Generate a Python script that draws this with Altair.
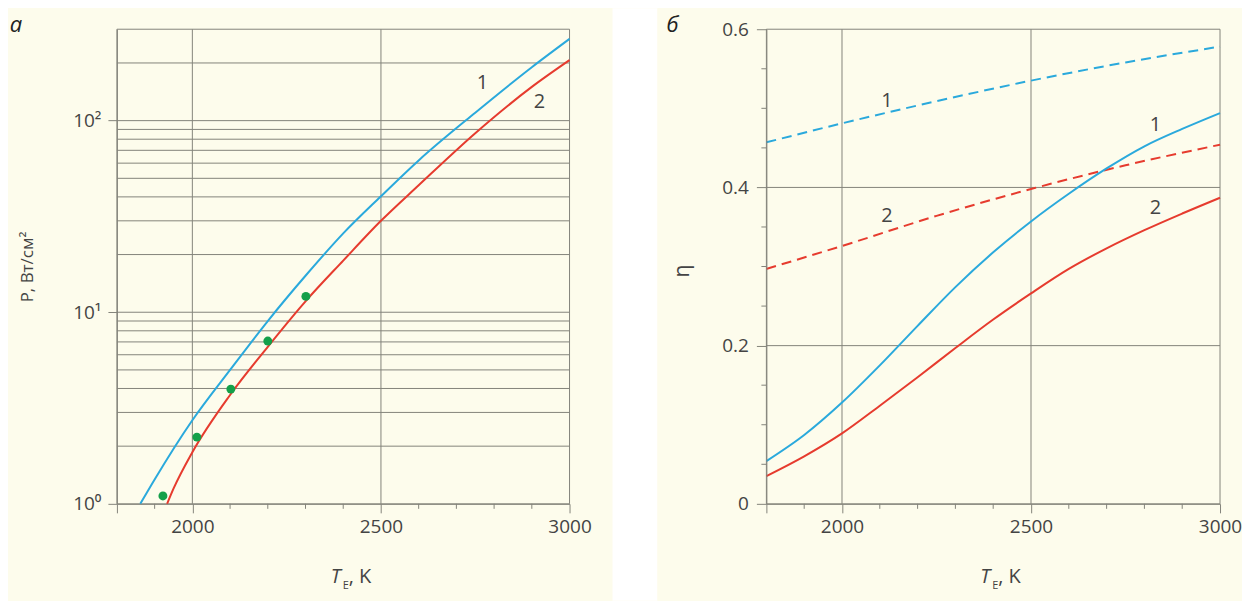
import altair as alt
import pandas as pd

# ---------------- data ----------------
# panel а : P (W/cm^2) vs T_E (K), log scale
T_p1 = [1862, 1900, 2000, 2100, 2200, 2300, 2400, 2500, 2600, 2750, 2900, 3000]
P_1 = [1.0, 1.34, 2.73, 5.0, 9.0, 15.5, 25.8, 40.3, 62, 110, 190, 267]
T_p2 = [1933, 1950, 2000, 2100, 2200, 2300, 2400, 2500, 2600, 2750, 2900, 3000]
P_2 = [1.0, 1.2, 1.86, 3.7, 6.6, 11.4, 18.6, 30.0, 46, 86, 150, 207]
T_exp = [1922, 2012, 2102, 2200, 2301]
P_exp = [1.1, 2.23, 3.97, 7.07, 12.1]
p_label_T = [2769, 2920]
p_label_P = [158, 125]
p_label_txt = ["1", "2"]

# panel б : efficiency
T_eta = [1800, 1900, 2000, 2100, 2200, 2300, 2400, 2500, 2600, 2700, 2800, 2900, 3000]
eta_1 = [0.054, 0.087, 0.128, 0.175, 0.225, 0.274, 0.318, 0.357, 0.392, 0.424, 0.452, 0.474, 0.494]
eta_2 = [0.035, 0.060, 0.089, 0.124, 0.160, 0.197, 0.233, 0.266, 0.297, 0.323, 0.346, 0.367, 0.387]
T_dash = [1800, 2000, 2250, 2500, 2750, 3000]
eta_1d = [0.457, 0.481, 0.509, 0.535, 0.558, 0.578]
eta_2d = [0.297, 0.326, 0.364, 0.398, 0.428, 0.454]
e_label_T = [2119, 2119, 2829, 2829]
e_label_v = [0.509, 0.364, 0.479, 0.374]
e_label_txt = ["1", "2", "1", "2"]

# ticks / grid values
x_major = [1800, 2000, 2500, 3000]
x_minor = [1900, 2100, 2200, 2300, 2400, 2600, 2700, 2800, 2900]
x_grid = [2000, 2500]
p_ticks = [1, 10, 100]
p_grid = [2, 3, 4, 5, 6, 7, 8, 9, 10, 20, 30, 40, 50, 60, 70, 80, 90, 100, 200]
e_ticks = [0, 0.2, 0.4, 0.6]
e_minor = [0.05, 0.1, 0.15, 0.25, 0.3, 0.35, 0.45, 0.5, 0.55]
e_grid = [0.2, 0.4]

# ---------------- style ----------------
CREAM = "#fdfcec"
GRID = "#84847a"
TXT = "#444444"
BLUE = "#2aa9dc"
RED = "#e63b2e"
GREEN = "#14a04a"
FONT = "Open Sans"

W1, H1 = 453, 475
W2, H2 = 454, 475
TOP, BOTTOM = -21, 572
one = pd.DataFrame({"a": [0]})

xs = alt.Scale(domain=[1800, 3000], nice=False, zero=False)
ys1 = alt.Scale(type="log", domain=[1, 300], nice=False)
ys2 = alt.Scale(domain=[0, 0.6], nice=False, zero=False)

XA = alt.Axis(values=x_major, tickSize=9, grid=False, title="", format="d",
              labelExpr="datum.value == 1800 ? '' : datum.label",
              labelFlush=False, labelPadding=5, zindex=1)
YA1 = alt.Axis(values=p_ticks, tickSize=9, grid=False, title="", labelPadding=7, zindex=1,
               labelExpr="datum.value < 5 ? '10⁰' : (datum.value < 50 ? '10¹' : '10²')")
YA2 = alt.Axis(values=e_ticks, tickSize=10, grid=False, title="", labelPadding=8, zindex=1,
               labelExpr="datum.value == 0 ? '0' : format(datum.value, '.1f')")


def filler(left, right, colour):
    return alt.Chart(one).mark_rect(color=colour).encode(
        x=alt.value(left), x2=alt.value(right), y=alt.value(TOP), y2=alt.value(BOTTOM))


def border(w, h):
    return alt.Chart(one).mark_rect(filled=False, stroke=GRID, strokeWidth=1).encode(
        x=alt.value(0), x2=alt.value(w), y=alt.value(0), y2=alt.value(h))


def vgrid(h):
    return alt.Chart(pd.DataFrame({"T": x_grid})).mark_rule(color=GRID, strokeWidth=1).encode(
        x=alt.X("T:Q", scale=xs, axis=XA), y=alt.value(0), y2=alt.value(h))


def xminor(h):
    return alt.Chart(pd.DataFrame({"T": x_minor})).mark_rule(color=GRID, strokeWidth=1).encode(
        x=alt.X("T:Q", scale=xs, axis=XA), y=alt.value(h), y2=alt.value(h + 5))


def xtitle():
    t1 = alt.Chart(one).mark_text(text="T", fontStyle="italic", fontSize=20, font=FONT,
                                  color=TXT, align="left", baseline="middle").encode(
        x=alt.value(214), y=alt.value(548))
    t2 = alt.Chart(one).mark_text(text="E", fontSize=11, font=FONT, color=TXT,
                                  align="left", baseline="middle").encode(
        x=alt.value(226), y=alt.value(557))
    t3 = alt.Chart(one).mark_text(text=", K", fontSize=20, font=FONT, color=TXT,
                                  align="left", baseline="middle").encode(
        x=alt.value(232), y=alt.value(548))
    return [t1, t2, t3]


def letter(txt, x):
    return alt.Chart(one).mark_text(text=txt, fontStyle="italic", fontSize=22, font=FONT,
                                    color="#222222", align="center", baseline="alphabetic").encode(
        x=alt.value(x), y=alt.value(3))


# ---------------- panel а ----------------
df_p = pd.DataFrame({
    "T": T_p1 + T_p2,
    "P": P_1 + P_2,
    "curve": ["1"] * len(T_p1) + ["2"] * len(T_p2),
})

hgrid1 = alt.Chart(pd.DataFrame({"P": p_grid})).mark_rule(color=GRID, strokeWidth=1).encode(
    y=alt.Y("P:Q", scale=ys1, axis=YA1), x=alt.value(0), x2=alt.value(W1))

lines1 = alt.Chart(df_p).mark_line(strokeWidth=2, interpolate="monotone").encode(
    x=alt.X("T:Q", scale=xs, axis=XA),
    y=alt.Y("P:Q", scale=ys1, axis=YA1),
    color=alt.Color("curve:N", scale=alt.Scale(domain=["1", "2"], range=[BLUE, RED]), legend=None),
)
pts1 = alt.Chart(pd.DataFrame({"T": T_exp, "P": P_exp})).mark_circle(
    size=80, color=GREEN, opacity=1).encode(
    x=alt.X("T:Q", scale=xs, axis=XA), y=alt.Y("P:Q", scale=ys1, axis=YA1))
lab1 = alt.Chart(pd.DataFrame({"T": p_label_T, "P": p_label_P, "t": p_label_txt})).mark_text(
    fontSize=20, font=FONT, color=TXT).encode(
    x=alt.X("T:Q", scale=xs, axis=XA), y=alt.Y("P:Q", scale=ys1, axis=YA1), text="t:N")
ytitle1 = alt.Chart(one).mark_text(text="P, Вт/см²", angle=270, fontSize=17, font=FONT,
                                   color=TXT, align="center", baseline="middle").encode(
    x=alt.value(-89), y=alt.value(238))

left = alt.layer(
    filler(-109, -105, CREAM), filler(496, 541, "white"),
    hgrid1, vgrid(H1), border(W1, H1), xminor(H1),
    lines1, pts1, lab1, ytitle1, letter("а", -101), *xtitle()
).properties(width=W1, height=H1)

# ---------------- panel б ----------------
df_e = pd.DataFrame({
    "T": T_eta + T_eta,
    "eta": eta_1 + eta_2,
    "curve": ["1"] * len(T_eta) + ["2"] * len(T_eta),
})
df_ed = pd.DataFrame({
    "T": T_dash + T_dash,
    "eta": eta_1d + eta_2d,
    "curve": ["1"] * len(T_dash) + ["2"] * len(T_dash),
})

hgrid2 = alt.Chart(pd.DataFrame({"eta": e_grid})).mark_rule(color=GRID, strokeWidth=1).encode(
    y=alt.Y("eta:Q", scale=ys2, axis=YA2), x=alt.value(0), x2=alt.value(W2))
yminor2 = alt.Chart(pd.DataFrame({"eta": e_minor})).mark_rule(color=GRID, strokeWidth=1).encode(
    y=alt.Y("eta:Q", scale=ys2, axis=YA2), x=alt.value(-5), x2=alt.value(0))

cscale = alt.Scale(domain=["1", "2"], range=[BLUE, RED])
lines2 = alt.Chart(df_e).mark_line(strokeWidth=2, interpolate="monotone").encode(
    x=alt.X("T:Q", scale=xs, axis=XA),
    y=alt.Y("eta:Q", scale=ys2, axis=YA2),
    color=alt.Color("curve:N", scale=cscale, legend=None),
)
dash2 = alt.Chart(df_ed).mark_line(strokeWidth=2, strokeDash=[10, 6], interpolate="monotone").encode(
    x=alt.X("T:Q", scale=xs, axis=XA),
    y=alt.Y("eta:Q", scale=ys2, axis=YA2),
    color=alt.Color("curve:N", scale=cscale, legend=None),
)
lab2 = alt.Chart(pd.DataFrame({"T": e_label_T, "eta": e_label_v, "t": e_label_txt})).mark_text(
    fontSize=20, font=FONT, color=TXT).encode(
    x=alt.X("T:Q", scale=xs, axis=XA), y=alt.Y("eta:Q", scale=ys2, axis=YA2), text="t:N")
ytitle2 = alt.Chart(one).mark_text(text="η", angle=270, fontSize=21, font=FONT,
                                   color=TXT, align="center", baseline="middle").encode(
    x=alt.value(-83), y=alt.value(242))

right = alt.layer(
    filler(-109, -105, CREAM),
    hgrid2, vgrid(H2), border(W2, H2), xminor(H2), yminor2,
    dash2, lines2, lab2, ytitle2, letter("б", -94), *xtitle()
).properties(width=W2, height=H2)

chart = alt.hconcat(left, right, spacing=0).properties(
    padding={"left": 0, "top": 0, "right": 0, "bottom": 0},
    background=CREAM,
).configure_view(strokeWidth=0).configure_axis(
    domainColor=GRID, tickColor=GRID, domainWidth=1, tickWidth=1,
    labelColor=TXT, labelFont=FONT, labelFontSize=19,
)

chart.save("out.html", embed_options={"renderer": "svg", "actions": False})
